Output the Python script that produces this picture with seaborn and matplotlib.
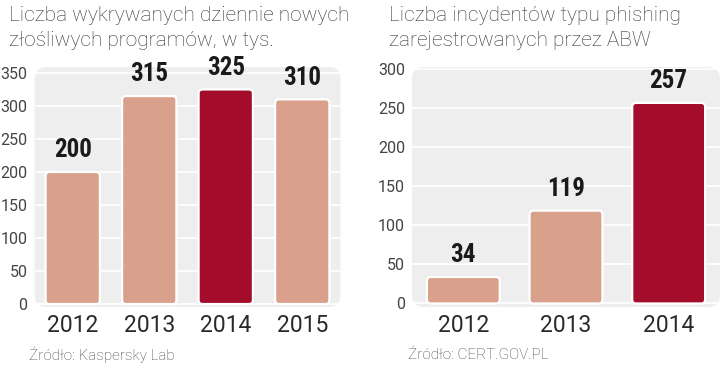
import matplotlib
matplotlib.use("Agg")
import matplotlib.pyplot as plt
from matplotlib import font_manager
from matplotlib.patches import FancyBboxPatch
import seaborn as sns
import pandas as pd

# data
malware_years = ['2012', '2013', '2014', '2015']
malware_values = [200, 315, 325, 310]
malware_highlight = '2014'

phishing_years = ['2012', '2013', '2014']
phishing_values = [34, 119, 257]
phishing_highlight = '2014'

malware_ticks = [0, 50, 100, 150, 200, 250, 300, 350]
phishing_ticks = [0, 50, 100, 150, 200, 250, 300]

LIGHT = '#d9a18b'
DARK = '#a30c2b'
PANEL = '#eeeeee'
TEXT = '#333333'

sns.set_theme(style='white')

installed = {f.name for f in font_manager.fontManager.ttflist}
narrow = next((n for n in ['Liberation Sans Narrow', 'DejaVu Sans Condensed', 'Roboto Condensed']
               if n in installed), 'DejaVu Sans')
plain = 'Roboto' if 'Roboto' in installed else 'DejaVu Sans'
plt.rcParams['font.family'] = [plain, 'DejaVu Sans']

W, H = 720, 367
fig = plt.figure(figsize=(W / 100, H / 100), dpi=100)


def panel(rect, years, values, highlight, ticks, ylim, title, source, title_x, source_x):
    ax = fig.add_axes(rect)
    df = pd.DataFrame({'year': years, 'value': values})
    colors = [DARK if y == highlight else LIGHT for y in years]
    sns.barplot(data=df, x='year', y='value', hue='year', palette=colors,
                legend=False, width=0.71, ax=ax, saturation=1)
    ax.set_xlim(-0.5, len(years) - 0.5)
    ax.set_ylim(*ylim)
    ax.set_yticks(ticks)
    ax.set_xlabel('')
    ax.set_ylabel('')
    ax.set_facecolor('none')
    for s in ax.spines.values():
        s.set_visible(False)
    ax.set_axisbelow(True)
    ax.yaxis.grid(True, color='white', lw=1.2)
    ax.tick_params(axis='y', length=0, pad=5, labelsize=11.5, labelcolor='#444444')
    ax.tick_params(axis='x', length=0, pad=5, labelsize=16.5, labelcolor='#2a2a2a')

    w_px = W * rect[2]
    h_px = H * rect[3]
    bg = FancyBboxPatch((0, 0), 1, 1, transform=ax.transAxes,
                        boxstyle=f'round,pad=0,rounding_size={12 / w_px}',
                        mutation_aspect=w_px / h_px, fc=PANEL, ec='none',
                        zorder=0.1, clip_on=False)
    ax.add_patch(bg)

    # rounded bars with white outline
    xu = (len(years)) / w_px
    yu = (ylim[1] - ylim[0]) / h_px
    for p in list(ax.patches):
        if p is bg:
            continue
        x, y, w, h = p.get_x(), p.get_y(), p.get_width(), p.get_height()
        fc = p.get_facecolor()
        p.remove()
        ax.add_patch(FancyBboxPatch((x, y), w, h,
                                    boxstyle=f'round,pad=0,rounding_size={4 * xu}',
                                    mutation_aspect=yu / xu, fc=fc, ec='white',
                                    lw=1.6, zorder=2))

    for i, v in enumerate(values):
        ax.annotate(str(v), (i, v), xytext=(0, 7), textcoords='offset points',
                    ha='center', va='bottom', fontsize=18, fontweight='bold',
                    family=[narrow, 'DejaVu Sans'], color='#1a1a1a')

    fig.text(title_x / W, 1 - 6 / H, title, ha='left', va='top', fontsize=15,
             fontweight='light', color=TEXT, linespacing=1.38)
    fig.text(source_x / W, 1 - 355 / H, source, ha='left', va='center',
             fontsize=11, fontweight='light', color='#444444')
    return ax


panel([34.5 / W, 60 / H, 306 / W, 240 / H], malware_years, malware_values,
      malware_highlight, malware_ticks, (-4.5, 359),
      'Liczba wykrywanych dziennie nowych\nzłośliwych programów, w tys.',
      'Źródło: Kaspersky Lab', 9, 29)

panel([412 / W, 60 / H, 308 / W, 240 / H], phishing_years, phishing_values,
      phishing_highlight, phishing_ticks, (-4.5, 303),
      'Liczba incydentów typu phishing\nzarejestrowanych przez ABW',
      'Źródło: CERT.GOV.PL', 389, 408)

fig.savefig('out.png', dpi=100)
